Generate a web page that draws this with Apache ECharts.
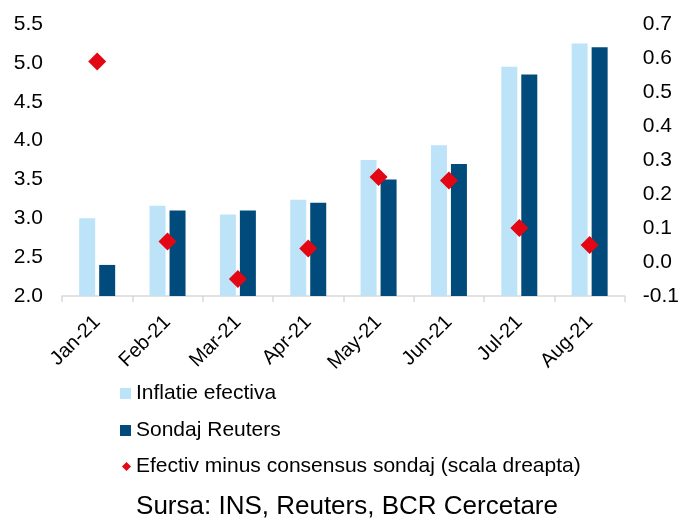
<!DOCTYPE html>
<html>
<head>
<meta charset="utf-8">
<script src="https://cdn.jsdelivr.net/npm/echarts@6/dist/echarts.min.js"></script>
<style>
  html, body { margin: 0; padding: 0; background: #fff; }
  #chart { width: 682px; height: 520px; }
</style>
</head>
<body>
<div id="chart"></div>
<script>
// Chart data
const months = ['Jan-21', 'Feb-21', 'Mar-21', 'Apr-21', 'May-21', 'Jun-21', 'Jul-21', 'Aug-21'];
const inflatieEfectiva = [3.0, 3.16, 3.05, 3.24, 3.75, 3.94, 4.95, 5.25];
const sondajReuters = [2.4, 3.1, 3.1, 3.2, 3.5, 3.7, 4.85, 5.2];
const diferenta = [0.59, 0.06, -0.05, 0.04, 0.25, 0.24, 0.1, 0.05];

const FONT = "'Liberation Sans', Arial, sans-serif";
const LIGHT = '#bde3f8';
const DARK = '#004b7c';
const RED = '#e30613';

const chart = echarts.init(document.getElementById('chart'));

const legendText = { fontSize: 21, color: '#000', fontFamily: FONT };

const option = {
  animation: false,
  grid: { left: 62, right: 55, top: 24, bottom: 224 },
  legend: [
    {
      left: 115, top: 378, itemWidth: 11, itemHeight: 11,
      textStyle: legendText, data: [{ name: 'Inflatie efectiva', icon: 'rect' }],
    },
    {
      left: 115, top: 415, itemWidth: 11, itemHeight: 11,
      textStyle: legendText, data: [{ name: 'Sondaj Reuters', icon: 'rect' }],
    },
    {
      left: 117, top: 451, itemWidth: 9, itemHeight: 9,
      textStyle: legendText,
      data: [{ name: 'Efectiv minus consensus sondaj (scala dreapta)', icon: 'diamond' }],
    },
  ],
  graphic: [
    {
      type: 'text',
      x: 347,
      y: 507,
      style: {
        text: 'Sursa: INS, Reuters, BCR Cercetare',
        font: "26px 'Liberation Sans', Arial, sans-serif",
        fill: '#000',
        textAlign: 'center',
        textVerticalAlign: 'middle',
      },
    },
  ],
  xAxis: {
    type: 'category',
    data: months,
    axisLine: { onZero: false, lineStyle: { color: '#d9d9d9', width: 1.5 } },
    axisTick: { show: true, length: 6, lineStyle: { color: '#d9d9d9', width: 1.5 } },
    axisLabel: {
      rotate: 45, margin: 23, fontSize: 20, color: '#000', fontFamily: FONT,
    },
  },
  yAxis: [
    {
      type: 'value', min: 2, max: 5.5, interval: 0.5,
      splitLine: { show: false },
      axisLine: { show: false },
      axisTick: { show: false },
      axisLabel: {
        margin: 19, fontSize: 21, color: '#000', fontFamily: FONT,
        formatter: (v) => v.toFixed(1),
      },
    },
    {
      type: 'value', min: -0.1, max: 0.7, interval: 0.1,
      splitLine: { show: false },
      axisLine: { show: false },
      axisTick: { show: false },
      axisLabel: {
        margin: 18, fontSize: 21, color: '#000', fontFamily: FONT,
        formatter: (v) => v.toFixed(1),
      },
    },
  ],
  series: [
    {
      name: 'Inflatie efectiva', type: 'bar', data: inflatieEfectiva,
      barWidth: 16, barGap: '25%', itemStyle: { color: LIGHT },
    },
    {
      name: 'Sondaj Reuters', type: 'bar', data: sondajReuters,
      barWidth: 16, itemStyle: { color: DARK },
    },
    {
      name: 'Efectiv minus consensus sondaj (scala dreapta)', type: 'scatter',
      yAxisIndex: 1, data: diferenta, symbol: 'diamond', symbolSize: 18,
      itemStyle: { color: RED, opacity: 1 }, z: 5,
    },
  ],
};

chart.setOption(option);
</script>
</body>
</html>
